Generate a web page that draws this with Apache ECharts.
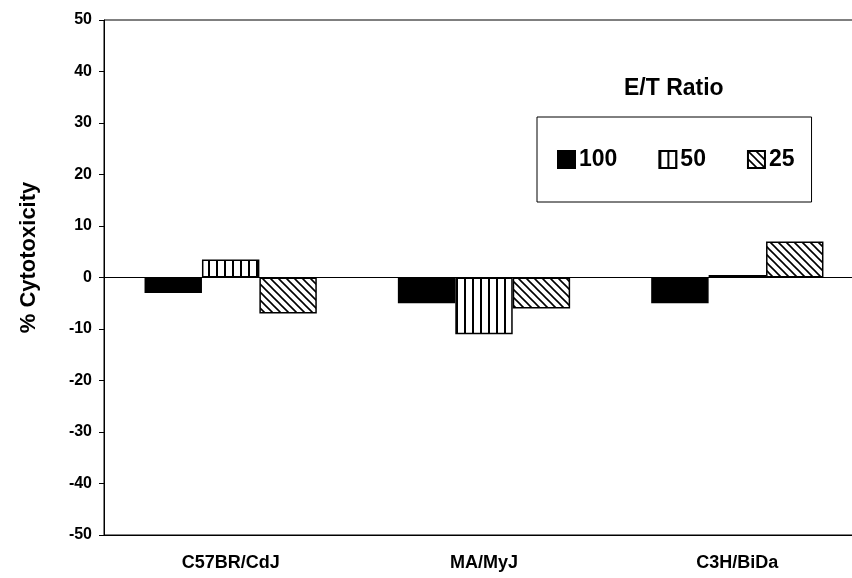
<!DOCTYPE html>
<html>
<head>
<meta charset="utf-8">
<script src="https://cdn.jsdelivr.net/npm/echarts@6/dist/echarts.min.js"></script>
<style>
html,body{margin:0;padding:0;background:#fff;overflow:hidden;}
#chart{width:880px;height:578px;}
</style>
</head>
<body>
<div id="chart"></div>
<script>
var categories = ['C57BR/CdJ', 'MA/MyJ', 'C3H/BiDa'];
var seriesNames = ['100', '50', '25'];
var values100 = [-3, -5, -5];
var values50 = [3.5, -11, 0.5];
var values25 = [-7, -6, 7];
var yTicks = { min: -50, max: 50, interval: 10 };

function makeStripe() {
  var c = document.createElement('canvas');
  c.width = 8; c.height = 8;
  var g = c.getContext('2d');
  g.fillStyle = '#fff'; g.fillRect(0, 0, 8, 8);
  g.fillStyle = '#000'; g.fillRect(0, 0, 2, 8);
  return c;
}
function makeHatch() {
  var c = document.createElement('canvas');
  c.width = 8; c.height = 8;
  var g = c.getContext('2d');
  g.fillStyle = '#fff'; g.fillRect(0, 0, 8, 8);
  g.strokeStyle = '#000'; g.lineWidth = 1.6;
  g.beginPath();
  g.moveTo(-2, -2); g.lineTo(10, 10);
  g.moveTo(-10, -2); g.lineTo(2, 10);
  g.moveTo(6, -2); g.lineTo(18, 10);
  g.stroke();
  return c;
}

var chart = echarts.init(document.getElementById('chart'));
var font = 'Liberation Sans, Arial, sans-serif';
var fills = ['#000', { image: makeStripe(), repeat: 'repeat' }, { image: makeHatch(), repeat: 'repeat' }];
var vals = [values100, values50, values25];

chart.setOption({
  animation: false,
  backgroundColor: '#fff',
  title: {
    text: 'E/T Ratio', left: 619, top: 72,
    textStyle: { fontFamily: font, fontWeight: 'bold', fontSize: 23, color: '#000' }
  },
  legend: {
    data: seriesNames,
    left: 537, top: 117,
    padding: [31, 17, 31, 20],
    itemGap: 41, itemWidth: 17, itemHeight: 17,
    borderColor: '#000', borderWidth: 1,
    icon: 'rect',
    textStyle: { fontFamily: font, fontWeight: 'bold', fontSize: 23, color: '#000', padding: [0, 0, 0, -1] }
  },
  grid: { left: 104, top: 20, right: 16, height: 515, show: true, borderColor: '#000', borderWidth: 1 },
  xAxis: [{
    type: 'category', data: categories,
    axisLine: { onZero: false, lineStyle: { color: '#000' } },
    axisTick: { show: false },
    axisLabel: { margin: 19, color: '#000', fontFamily: font, fontWeight: 'bold', fontSize: 18 }
  }, {
    type: 'category', data: categories, position: 'bottom',
    axisLine: { onZero: true, lineStyle: { color: '#000' } },
    axisTick: { show: false }, axisLabel: { show: false }
  }],
  yAxis: {
    type: 'value', min: yTicks.min, max: yTicks.max, interval: yTicks.interval,
    name: '% Cytotoxicity', nameLocation: 'middle', nameGap: 64,
    nameTextStyle: { fontFamily: font, fontWeight: 'bold', fontSize: 22, color: '#000', padding: [0, 0, 0, 40] },
    axisLine: { show: true, lineStyle: { color: '#000' } },
    axisTick: { show: true, length: 5, lineStyle: { color: '#000' } },
    splitLine: { show: false },
    axisLabel: { margin: 12, color: '#000', fontFamily: font, fontWeight: 'bold', fontSize: 16 }
  },
  series: seriesNames.map(function (n, i) {
    return {
      name: n, type: 'bar', data: vals[i], xAxisIndex: 0,
      barGap: '0%', barCategoryGap: '32%',
      itemStyle: { color: fills[i], borderColor: '#000', borderWidth: 1.5 }
    };
  })
});
</script>
</body>
</html>
